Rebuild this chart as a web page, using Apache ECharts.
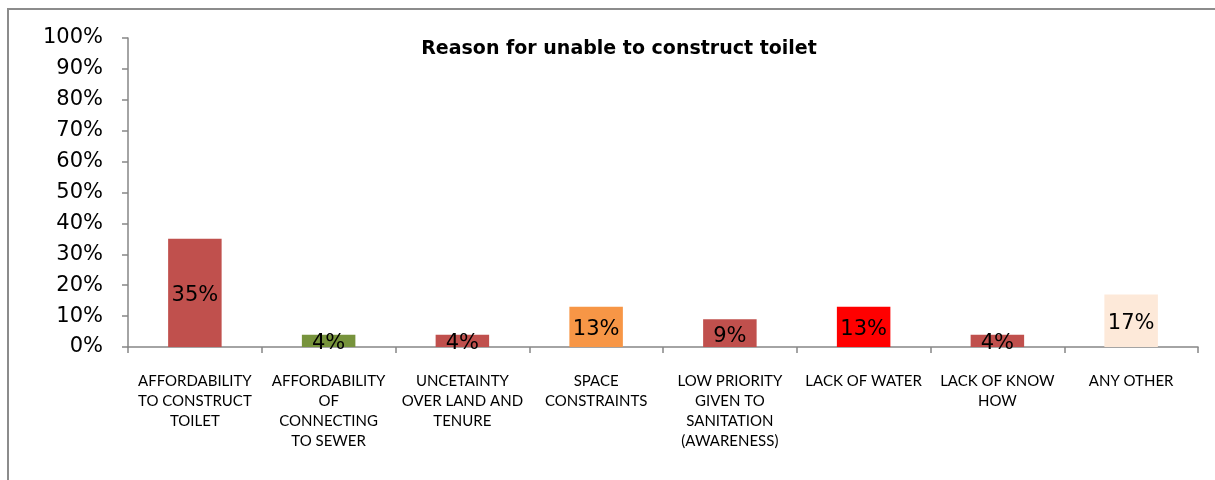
<!DOCTYPE html>
<html>
<head>
<meta charset="utf-8">
<script src="https://cdn.jsdelivr.net/npm/echarts@6/dist/echarts.min.js"></script>
<style>
  html, body { margin: 0; padding: 0; background: #fff; }
  #chart { width: 1215px; height: 480px; }
</style>
</head>
<body>
<div id="chart"></div>
<script>
// Reasons households gave for not building a toilet (share of respondents, %)
const categories = [
  'AFFORDABILITY\nTO CONSTRUCT\nTOILET',
  'AFFORDABILITY\nOF\nCONNECTING\nTO SEWER',
  'UNCETAINTY\nOVER LAND AND\nTENURE',
  'SPACE\nCONSTRAINTS',
  'LOW PRIORITY\nGIVEN TO\nSANITATION\n(AWARENESS)',
  'LACK OF WATER',
  'LACK OF KNOW\nHOW',
  'ANY OTHER'
];
const shares = [35, 4, 4, 13, 9, 13, 4, 17];
const barColors = ['#C0504D', '#77933C', '#C0504D', '#F79646', '#C0504D', '#FF0000', '#C0504D', '#FDE9D9'];
const yTicks = [0, 10, 20, 30, 40, 50, 60, 70, 80, 90, 100];

const WIDE = '"DejaVu Sans", sans-serif';
const NARROW = 'Lato, "DejaVu Sans", sans-serif';
const chart = echarts.init(document.getElementById('chart'), null, { renderer: 'canvas' });

chart.setOption({
  animation: false,
  backgroundColor: '#fff',
  graphic: [{
    type: 'rect',
    shape: { x: 8, y: 9, width: 1230, height: 500 },
    style: { fill: 'none', stroke: '#8c8c8c', lineWidth: 2 },
    silent: true
  }],
  title: {
    text: 'Reason for unable to construct toilet',
    left: 614,
    textAlign: 'center',
    top: 35,
    textStyle: { fontFamily: WIDE, fontSize: 19, fontWeight: 'bold', color: '#000' }
  },
  grid: { left: 128, right: 17, top: 38, bottom: 133, containLabel: false },
  xAxis: {
    type: 'category',
    data: categories,
    axisLine: { lineStyle: { color: '#868686', width: 1.5 } },
    axisTick: { show: true, length: 6, lineStyle: { color: '#868686', width: 1.5 } },
    axisLabel: {
      interval: 0,
      margin: 24,
      fontFamily: NARROW,
      fontSize: 15,
      lineHeight: 20,
      color: '#000',
      align: 'center'
    }
  },
  yAxis: {
    type: 'value',
    min: 0,
    max: 100,
    interval: 10,
    splitLine: { show: false },
    axisLine: { show: true, lineStyle: { color: '#868686', width: 1.5 } },
    axisTick: { show: true, length: 6, lineStyle: { color: '#868686', width: 1.5 } },
    axisLabel: {
      margin: 25,
      fontFamily: WIDE,
      fontSize: 21,
      color: '#000',
      formatter: v => (yTicks.includes(v) ? v + '%' : '')
    }
  },
  series: [{
    type: 'bar',
    barWidth: '40%',
    data: shares.map((v, i) => ({ value: v, itemStyle: { color: barColors[i] } })),
    label: {
      show: true,
      position: 'inside',
      offset: [0, 3],
      formatter: p => p.value + '%',
      fontFamily: WIDE,
      fontSize: 21,
      color: '#000'
    }
  }]
});
</script>
</body>
</html>
